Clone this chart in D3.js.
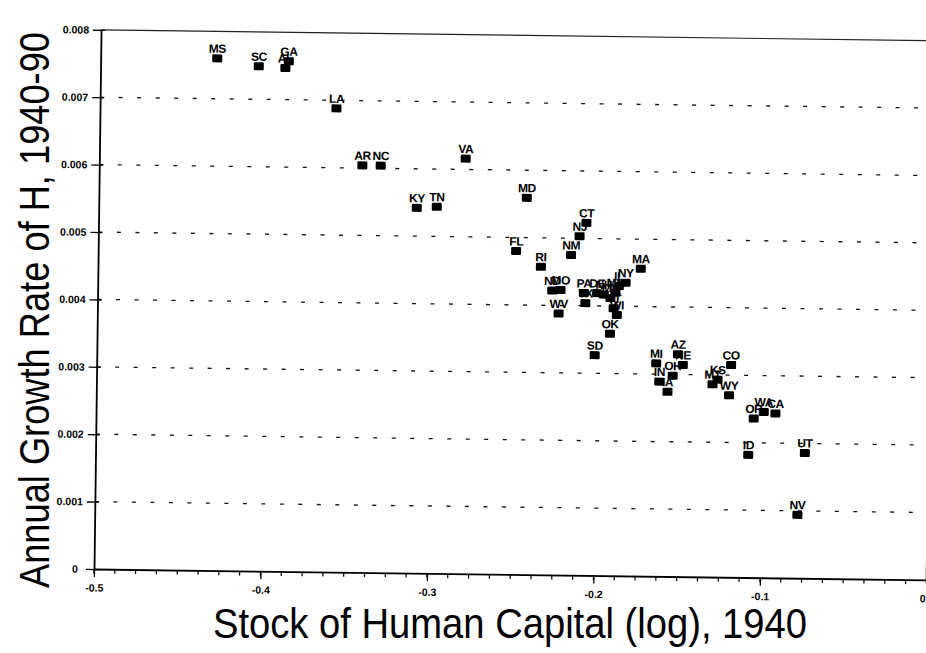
<!DOCTYPE html>
<html>
<head>
<meta charset="utf-8">
<script src="https://cdn.jsdelivr.net/npm/d3@7"></script>
<style>
  body { margin: 0; background: #fff; }
  svg { display: block; font-family: "Liberation Sans", Arial, Helvetica, sans-serif; }
</style>
</head>
<body>
<svg width="926" height="653"></svg>
<script>
// states, log stock of human capital 1940, annual growth rate of H 1940-90
var states  = ["MS","SC","GA","AL","LA","AR","NC","VA","KY","TN","MD","FL",
               "RI","NM","CT","NJ","MA","ND","MO","WV","PA","TX","DE","NH",
               "ME","MN","IL","NY","VT","WI","OK","SD","MI","AZ","NE","OH",
               "IN","IA","MT","KS","CO","WY","OR","WA","CA","ID","UT","NV"];
var capital = [-0.430,-0.405,-0.387,-0.389,-0.358,-0.342,-0.331,-0.280,-0.309,-0.297,-0.243,-0.249,
               -0.234,-0.216,-0.207,-0.211,-0.174,-0.227,-0.222,-0.223,-0.208,-0.207,-0.200,-0.196,
               -0.192,-0.189,-0.187,-0.183,-0.190,-0.188,-0.192,-0.201,-0.164,-0.151,-0.148,-0.154,
               -0.162,-0.157,-0.130,-0.127,-0.119,-0.120,-0.105,-0.099,-0.092,-0.108,-0.074,-0.078];
var growth  = [0.00760,0.00749,0.00757,0.00747,0.00688,0.00604,0.00604,0.00616,0.00542,0.00544,0.00559,0.00480,
               0.00457,0.00475,0.00523,0.00503,0.00456,0.00422,0.00423,0.00388,0.00419,0.00404,0.00419,0.00417,
               0.00412,0.00420,0.00430,0.00435,0.00397,0.00387,0.00359,0.00327,0.00316,0.00330,0.00314,0.00298,
               0.00289,0.00274,0.00286,0.00293,0.00315,0.00270,0.00236,0.00246,0.00244,0.00182,0.00186,0.00094];

var xTicks = [-0.5, -0.4, -0.3, -0.2, -0.1, 0];
var xTickLabels = ["-0.5", "-0.4", "-0.3", "-0.2", "-0.1", "0"];
var yTicks = [0, 0.001, 0.002, 0.003, 0.004, 0.005, 0.006, 0.007, 0.008];
var yTickLabels = ["0", "0.001", "0.002", "0.003", "0.004", "0.005", "0.006", "0.007", "0.008"];
var gridValues = [0.001, 0.002, 0.003, 0.004, 0.005, 0.006, 0.007];

var xTitle = "Stock of Human Capital (log), 1940";
var yTitle = "Annual Growth Rate of H, 1940-90";

var svg = d3.select("svg");

var x = d3.scaleLinear().domain([-0.5, 0]).range([94, 926.5]);
var y = d3.scaleLinear().domain([0, 0.008]).range([569, 29.8]);

// the scanned figure is slightly tilted
var plot = svg.append("g").attr("transform", "rotate(0.75,94,569)");

// dotted grid lines
plot.append("g")
  .selectAll("line")
  .data(gridValues)
  .enter().append("line")
  .attr("x1", x(-0.5)).attr("x2", x(0))
  .attr("y1", d => y(d)).attr("y2", d => y(d))
  .attr("stroke", "#111")
  .attr("stroke-width", 1.3)
  .attr("stroke-dasharray", "4,14.5");

// frame: top and right
plot.append("line")
  .attr("x1", x(-0.5)).attr("x2", x(0))
  .attr("y1", y(0.008)).attr("y2", y(0.008))
  .attr("stroke", "#222").attr("stroke-width", 1.2);
plot.append("line")
  .attr("x1", x(0)).attr("x2", x(0))
  .attr("y1", y(0.008)).attr("y2", y(0))
  .attr("stroke", "#111").attr("stroke-width", 1.5);

// y axis with cross ticks
var yAxis = plot.append("g")
  .attr("transform", "translate(" + x(-0.5) + ",0)")
  .call(d3.axisLeft(y).tickValues(yTicks)
    .tickFormat((d, i) => yTickLabels[i])
    .tickSizeInner(8).tickSizeOuter(0).tickPadding(4));
yAxis.select(".domain").attr("stroke", "#000").attr("stroke-width", 1.8);
yAxis.selectAll(".tick line").attr("x2", -8).attr("x1", 4)
  .attr("stroke", "#000").attr("stroke-width", 1.3);
yAxis.selectAll(".tick text")
  .attr("font-family", "Liberation Sans, Arial, sans-serif")
  .attr("font-size", 10.5).attr("font-weight", "bold").attr("fill", "#000");
yAxis.selectAll(".tick text").filter(d => d === 0).attr("dx", -4);

// x axis: minor ticks every 0.0125
plot.append("g")
  .selectAll("line")
  .data(d3.range(0, 41).map(i => -0.5 + i * 0.0125))
  .enter().append("line")
  .attr("x1", d => x(d)).attr("x2", d => x(d))
  .attr("y1", y(0)).attr("y2", y(0) + 4.5)
  .attr("stroke", "#000").attr("stroke-width", 1.2);

var xAxis = plot.append("g")
  .attr("transform", "translate(0," + y(0) + ")")
  .call(d3.axisBottom(x).tickValues(xTicks)
    .tickFormat((d, i) => xTickLabels[i])
    .tickSizeInner(8).tickSizeOuter(0).tickPadding(7));
xAxis.select(".domain").attr("stroke", "#000").attr("stroke-width", 1.8);
xAxis.selectAll(".tick line").attr("stroke", "#000").attr("stroke-width", 1.3);
xAxis.selectAll(".tick text")
  .attr("font-family", "Liberation Sans, Arial, sans-serif")
  .attr("font-size", 10.5).attr("font-weight", "bold").attr("fill", "#000");
// last label sits on the page edge
xAxis.selectAll(".tick text").filter(d => d === 0).attr("dx", -4);

// points and state labels
var pts = plot.append("g")
  .selectAll("g")
  .data(states.map((s, i) => ({ name: s, c: capital[i], g: growth[i] })))
  .enter().append("g");

pts.append("rect")
  .attr("x", d => x(d.c) - 5)
  .attr("y", d => y(d.g) - 4)
  .attr("width", 10).attr("height", 8)
  .attr("rx", 1.2)
  .attr("fill", "#000");

pts.append("text")
  .attr("x", d => x(d.c))
  .attr("y", d => y(d.g) - 5.5)
  .attr("text-anchor", "middle")
  .attr("font-size", 12)
  .attr("font-weight", "bold")
  .attr("letter-spacing", -0.4)
  .attr("fill", "#000")
  .text(d => d.name);

// axis titles
svg.append("text")
  .attr("x", 510).attr("y", 638)
  .attr("text-anchor", "middle")
  .attr("font-size", 42)
  .attr("textLength", 594)
  .attr("lengthAdjust", "spacingAndGlyphs")
  .attr("fill", "#000")
  .text(xTitle);

svg.append("text")
  .attr("transform", "translate(49,310) rotate(-90)")
  .attr("text-anchor", "middle")
  .attr("font-size", 42)
  .attr("textLength", 556)
  .attr("lengthAdjust", "spacingAndGlyphs")
  .attr("fill", "#000")
  .text(yTitle);
</script>
</body>
</html>
